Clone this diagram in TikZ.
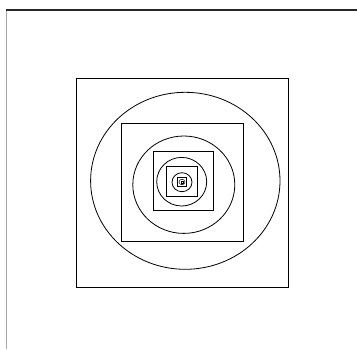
\documentclass[tikz,border=0pt]{standalone}
\begin{document}
\begin{tikzpicture}[x=1pt, y=-1pt, line width=0.8pt]
    \useasboundingbox (0,0) rectangle (357,349);

    % frame edges
    \draw[line width=2pt, black!85] (6,9.5) -- (357,9.5);
    \draw[line width=1pt, black!35] (6.5,10.5) -- (6.5,349);

    % outer square and ellipse
    \draw (76.5,78.5) rectangle (288.5,287);
    \draw (185.3,180.8) ellipse (94.7 and 88.5);

    % second level
    \draw (121,123.3) rectangle (243.3,241.3);
    \draw (183.8,184.7) ellipse (51 and 48.7);

    % third level
    \draw (153.3,151.7) rectangle (213.3,210);
    \draw (181.7,181.7) ellipse (25 and 24.3);

    % fourth level
    \draw (166.7,166.7) rectangle (197.3,196.7);
    \draw (182,182.2) ellipse (10 and 9.5);

    % innermost
    \draw[line width=0.6pt] (177.5,177.5) rectangle (186.3,186.5);
    \draw[line width=0.5pt] (182,182) ellipse (3 and 2.8);
    \draw[line width=0.4pt] (180.8,180.8) rectangle (183.2,183.2);
\end{tikzpicture}
\end{document}
